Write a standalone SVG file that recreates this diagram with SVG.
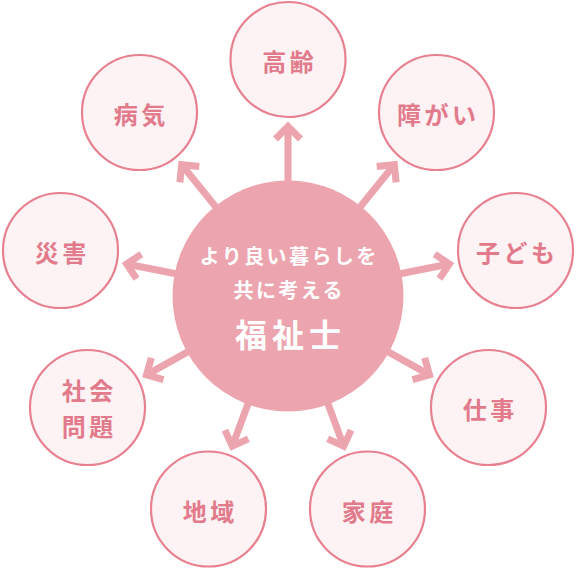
<svg xmlns="http://www.w3.org/2000/svg" width="576" height="570" viewBox="0 0 576 570">
<style>
.node circle{fill:#fdf2f4;stroke:#e8808f;stroke-width:2.2}
.node text{fill:#e27a8b;font-family:"Noto Sans CJK JP","Noto Sans",sans-serif;font-size:24px;font-weight:bold;letter-spacing:3.5px;text-anchor:middle;dominant-baseline:central}
.conn line{stroke:#eca4ae;stroke-width:7;fill:none}
.ctext{fill:#ffffff;font-family:"Noto Sans CJK JP","Noto Sans",sans-serif;font-weight:bold;text-anchor:middle;dominant-baseline:central}
</style>
<defs>
<marker id="ah" markerUnits="userSpaceOnUse" markerWidth="40" markerHeight="40" viewBox="-20 -20 40 40" refX="0" refY="0" orient="auto" overflow="visible">
<path d="M-12.5,-12.5 L0,0 L-12.5,12.5" fill="none" stroke="#eca4ae" stroke-width="7"/>
</marker>
</defs>
<g id="connectors" class="conn">
<line x1="288" y1="296" x2="288" y2="126.5" marker-end="url(#ah)"/>
<line x1="288" y1="296" x2="181.7" y2="164.7" marker-end="url(#ah)"/>
<line x1="288" y1="296" x2="394.3" y2="164.7" marker-end="url(#ah)"/>
<line x1="288" y1="296" x2="449.3" y2="264" marker-end="url(#ah)"/>
<line x1="288" y1="296" x2="126.7" y2="264" marker-end="url(#ah)"/>
<line x1="288" y1="296" x2="429.5" y2="374.9" marker-end="url(#ah)"/>
<line x1="288" y1="296" x2="146.5" y2="374.9" marker-end="url(#ah)"/>
<line x1="288" y1="296" x2="343.7" y2="446.2" marker-end="url(#ah)"/>
<line x1="288" y1="296" x2="232.3" y2="446.2" marker-end="url(#ah)"/>
</g>
<g id="center">
<circle cx="288" cy="296" r="115.5" fill="#eca4ae"/>
<text class="ctext" x="289.2" y="255" font-size="20" letter-spacing="2.4">より良い暮らしを</text>
<text class="ctext" x="289.2" y="289" font-size="20" letter-spacing="2.4">共に考える</text>
<text class="ctext" x="290.5" y="332.5" font-size="32" letter-spacing="5">福祉士</text>
</g>
<g id="n-koureI" class="node"><circle cx="288" cy="59.5" r="57.5"/><text x="289.75" y="60.5">高齢</text></g>
<g id="n-byouki" class="node"><circle cx="139.5" cy="112.5" r="57.5"/><text x="141.25" y="113">病気</text></g>
<g id="n-shougai" class="node"><circle cx="436.5" cy="112.5" r="57.5"/><text x="438.25" y="113">障がい</text></g>
<g id="n-saigai" class="node"><circle cx="60.5" cy="250.5" r="57.5"/><text x="62.25" y="251">災害</text></g>
<g id="n-kodomo" class="node"><circle cx="515.5" cy="250.5" r="57.5"/><text x="517.25" y="251">子ども</text></g>
<g id="n-shakai" class="node"><circle cx="87.5" cy="407.5" r="57.5"/><text x="89.25" y="389">社会</text><text x="89.25" y="425.5">問題</text></g>
<g id="n-shigoto" class="node"><circle cx="488.5" cy="407.5" r="57.5"/><text x="490.25" y="408">仕事</text></g>
<g id="n-chiiki" class="node"><circle cx="208.5" cy="509" r="57.5"/><text x="210.25" y="510">地域</text></g>
<g id="n-katei" class="node"><circle cx="367.5" cy="509" r="57.5"/><text x="369.25" y="510">家庭</text></g>
</svg>
